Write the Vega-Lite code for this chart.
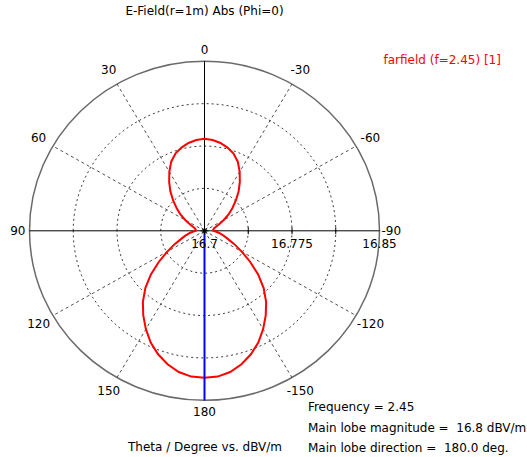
{
  "$schema": "https://vega.github.io/schema/vega-lite/v6.json",
  "width": 350,
  "height": 339,
  "autosize": {"type": "none"},
  "padding": {"left": 29.5, "top": 61.3, "right": 147.5, "bottom": 56.7},
  "background": "white",
  "config": {"view": {"stroke": null}, "font": "DejaVu Sans"},
  "title": {"text": "E-Field(r=1m) Abs (Phi=0)", "fontSize": 12, "fontWeight": "normal", "font": "DejaVu Sans", "color": "#000000", "offset": 26, "anchor": "middle"},
  "datasets": {
    "pattern": [
      {"theta": -180, "efield": 16.8301}, {"theta": -175, "efield": 16.8295}, {"theta": -170, "efield": 16.8269},
      {"theta": -165, "efield": 16.8223}, {"theta": -160, "efield": 16.8163}, {"theta": -155, "efield": 16.8091},
      {"theta": -150, "efield": 16.8005}, {"theta": -145, "efield": 16.7915}, {"theta": -140, "efield": 16.7822},
      {"theta": -135, "efield": 16.7717}, {"theta": -130, "efield": 16.7600}, {"theta": -125, "efield": 16.7477},
      {"theta": -120, "efield": 16.7368}, {"theta": -115, "efield": 16.7285}, {"theta": -110, "efield": 16.7215},
      {"theta": -105, "efield": 16.7173}, {"theta": -100, "efield": 16.7135}, {"theta": -95, "efield": 16.7102},
      {"theta": -90, "efield": 16.7075}, {"theta": -85, "efield": 16.7075}, {"theta": -80, "efield": 16.7078},
      {"theta": -75, "efield": 16.7086}, {"theta": -70, "efield": 16.7105}, {"theta": -65, "efield": 16.7138},
      {"theta": -60, "efield": 16.7188}, {"theta": -55, "efield": 16.7252}, {"theta": -50, "efield": 16.7311},
      {"theta": -45, "efield": 16.7380}, {"theta": -40, "efield": 16.7455}, {"theta": -35, "efield": 16.7528},
      {"theta": -30, "efield": 16.7603}, {"theta": -25, "efield": 16.7675}, {"theta": -20, "efield": 16.7728},
      {"theta": -15, "efield": 16.7762}, {"theta": -10, "efield": 16.7789}, {"theta": -5, "efield": 16.7807},
      {"theta": 0, "efield": 16.7815},
      {"theta": 5, "efield": 16.7807}, {"theta": 10, "efield": 16.7789}, {"theta": 15, "efield": 16.7762},
      {"theta": 20, "efield": 16.7728}, {"theta": 25, "efield": 16.7675}, {"theta": 30, "efield": 16.7603},
      {"theta": 35, "efield": 16.7528}, {"theta": 40, "efield": 16.7455}, {"theta": 45, "efield": 16.7380},
      {"theta": 50, "efield": 16.7311}, {"theta": 55, "efield": 16.7252}, {"theta": 60, "efield": 16.7188},
      {"theta": 65, "efield": 16.7138}, {"theta": 70, "efield": 16.7105}, {"theta": 75, "efield": 16.7086},
      {"theta": 80, "efield": 16.7078}, {"theta": 85, "efield": 16.7075}, {"theta": 90, "efield": 16.7075},
      {"theta": 95, "efield": 16.7102}, {"theta": 100, "efield": 16.7135}, {"theta": 105, "efield": 16.7173},
      {"theta": 110, "efield": 16.7215}, {"theta": 115, "efield": 16.7285}, {"theta": 120, "efield": 16.7368},
      {"theta": 125, "efield": 16.7477}, {"theta": 130, "efield": 16.7600}, {"theta": 135, "efield": 16.7717},
      {"theta": 140, "efield": 16.7822}, {"theta": 145, "efield": 16.7915}, {"theta": 150, "efield": 16.8005},
      {"theta": 155, "efield": 16.8091}, {"theta": 160, "efield": 16.8163}, {"theta": 165, "efield": 16.8223},
      {"theta": 170, "efield": 16.8269}, {"theta": 175, "efield": 16.8295}, {"theta": 180, "efield": 16.8301}
    ],
    "rings": [{"level": 16.7375}, {"level": 16.775}, {"level": 16.8125}, {"level": 16.85}],
    "spokes": [
      {"angle": 0, "kind": "axis"}, {"angle": 30, "kind": "grid"}, {"angle": 60, "kind": "grid"},
      {"angle": 90, "kind": "axis"}, {"angle": 120, "kind": "grid"}, {"angle": 150, "kind": "grid"},
      {"angle": 180, "kind": "axis"}, {"angle": -150, "kind": "grid"}, {"angle": -120, "kind": "grid"},
      {"angle": -90, "kind": "axis"}, {"angle": -60, "kind": "grid"}, {"angle": -30, "kind": "grid"}
    ],
    "radial": [{"level": 16.7}, {"level": 16.775}, {"level": 16.85}],
    "mainlobe": [{"direction": 180, "magnitude": 16.8}]
  },
  "layer": [
    {
      "data": {"name": "rings"},
      "transform": [{"filter": "datum.level < 16.85"}, {"calculate": "(datum.level - 16.7) / 0.15", "as": "rn"}, {"calculate": "0", "as": "cx"}],
      "mark": {"type": "point", "shape": "M-1,0A1,0.9686,0,1,1,1,0A1,0.9686,0,1,1,-1,0Z", "filled": false, "stroke": "#3c3c3c", "strokeWidth": 1, "strokeDash": [2, 3], "opacity": 1},
      "encoding": {
        "x": {"field": "cx", "type": "quantitative", "scale": {"domain": [-1, 1], "nice": false, "zero": false}, "axis": {"title": "Theta / Degree vs. dBV/m", "domain": false, "ticks": false, "labels": false, "grid": false, "titlePadding": 41, "titleFontSize": 12, "titleFontWeight": "normal", "titleColor": "#000000", "titleFont": "DejaVu Sans"}},
        "y": {"field": "cx", "type": "quantitative", "scale": {"domain": [-1, 1], "nice": false, "zero": false}, "axis": null},
        "size": {"field": "rn", "type": "quantitative", "scale": {"type": "pow", "exponent": 2, "domain": [0, 1], "range": [0, 122500]}, "legend": null}
      }
    },
    {
      "data": {"name": "rings"},
      "transform": [{"filter": "datum.level >= 16.85"}, {"calculate": "(datum.level - 16.7) / 0.15", "as": "rn"}, {"calculate": "0", "as": "cx"}],
      "mark": {"type": "point", "shape": "M-1,0A1,0.9686,0,1,1,1,0A1,0.9686,0,1,1,-1,0Z", "filled": false, "stroke": "#6a6a6a", "strokeWidth": 1.5, "opacity": 1},
      "encoding": {
        "x": {"field": "cx", "type": "quantitative"},
        "y": {"field": "cx", "type": "quantitative"},
        "size": {"field": "rn", "type": "quantitative", "legend": null}
      }
    },
    {
      "data": {"name": "spokes"},
      "transform": [
        {"filter": "datum.kind == 'grid'"},
        {"calculate": "0", "as": "cx"},
        {"calculate": "-sin(datum.angle * PI / 180)", "as": "ex"},
        {"calculate": "cos(datum.angle * PI / 180)", "as": "ey"}
      ],
      "mark": {"type": "rule", "stroke": "#505050", "strokeWidth": 1, "strokeDash": [3, 3]},
      "encoding": {
        "x": {"field": "cx", "type": "quantitative"},
        "y": {"field": "cx", "type": "quantitative"},
        "x2": {"field": "ex"},
        "y2": {"field": "ey"}
      }
    },
    {
      "data": {"name": "spokes"},
      "transform": [
        {"filter": "datum.kind == 'axis'"},
        {"calculate": "0", "as": "cx"},
        {"calculate": "-sin(datum.angle * PI / 180)", "as": "ex"},
        {"calculate": "cos(datum.angle * PI / 180)", "as": "ey"}
      ],
      "mark": {"type": "rule", "stroke": "#000000", "strokeWidth": 1},
      "encoding": {
        "x": {"field": "cx", "type": "quantitative"},
        "y": {"field": "cx", "type": "quantitative"},
        "x2": {"field": "ex"},
        "y2": {"field": "ey"}
      }
    },
    {
      "data": {"name": "rings"},
      "transform": [{"filter": "datum.level < 16.85"}, {"calculate": "(datum.level - 16.7) / 0.15", "as": "rn"}, {"calculate": "0", "as": "cx"}],
      "mark": {"type": "tick", "orient": "vertical", "size": 7, "thickness": 1, "color": "#000000", "opacity": 1},
      "encoding": {
        "x": {"field": "rn", "type": "quantitative"},
        "y": {"field": "cx", "type": "quantitative"}
      }
    },
    {
      "data": {"name": "pattern"},
      "transform": [
        {"calculate": "(datum.efield - 16.7) / 0.15", "as": "rn"},
        {"calculate": "-datum.rn * sin(datum.theta * PI / 180)", "as": "px"},
        {"calculate": "datum.rn * cos(datum.theta * PI / 180)", "as": "py"},
        {"calculate": "'farfield (f=2.45) [1]'", "as": "series"}
      ],
      "mark": {"type": "line", "strokeWidth": 2},
      "encoding": {
        "x": {"field": "px", "type": "quantitative"},
        "y": {"field": "py", "type": "quantitative"},
        "order": {"field": "theta", "type": "quantitative"},
        "color": {"field": "series", "type": "nominal", "scale": {"range": ["#ff0000"]},
          "legend": {"orient": "none", "legendX": 342, "legendY": -7, "title": null, "symbolSize": 0, "symbolStrokeWidth": 0, "symbolOpacity": 0, "labelColor": "#ff0000", "labelFontSize": 12, "labelFont": "DejaVu Sans", "labelOffset": 0, "padding": 0}}
      }
    },
    {
      "data": {"name": "mainlobe"},
      "transform": [
        {"calculate": "0", "as": "cx"},
        {"calculate": "-sin(datum.direction * PI / 180)", "as": "ex"},
        {"calculate": "cos(datum.direction * PI / 180)", "as": "ey"}
      ],
      "mark": {"type": "rule", "stroke": "#0000ff", "strokeWidth": 2},
      "encoding": {
        "x": {"field": "cx", "type": "quantitative"},
        "y": {"field": "cx", "type": "quantitative"},
        "x2": {"field": "ex"},
        "y2": {"field": "ey"}
      }
    },
    {
      "data": {"name": "mainlobe"},
      "transform": [{"calculate": "0", "as": "cx"}],
      "mark": {"type": "point", "shape": "M-1,0L1,0M0,-1L0,1M-0.7,-0.7L0.7,0.7M-0.7,0.7L0.7,-0.7", "filled": false, "stroke": "#000000", "strokeWidth": 1, "size": 64, "opacity": 1},
      "encoding": {
        "x": {"field": "cx", "type": "quantitative"},
        "y": {"field": "cx", "type": "quantitative"}
      }
    },
    {
      "data": {"name": "spokes"},
      "transform": [
        {"calculate": "1.067 + 0.032 * abs(sin(2 * datum.angle * PI / 180))", "as": "lr"},
        {"calculate": "-datum.lr * sin(datum.angle * PI / 180)", "as": "lx"},
        {"calculate": "datum.lr * cos(datum.angle * PI / 180)", "as": "ly"}
      ],
      "mark": {"type": "text", "fontSize": 12, "font": "DejaVu Sans", "color": "#000000", "align": "center", "baseline": "middle"},
      "encoding": {
        "x": {"field": "lx", "type": "quantitative"},
        "y": {"field": "ly", "type": "quantitative"},
        "text": {"field": "angle", "type": "nominal"}
      }
    },
    {
      "data": {"name": "radial"},
      "transform": [{"calculate": "(datum.level - 16.7) / 0.15", "as": "rn"}, {"calculate": "0", "as": "cx"}],
      "mark": {"type": "text", "fontSize": 12, "font": "DejaVu Sans", "color": "#000000", "align": "center", "baseline": "middle", "dy": 13},
      "encoding": {
        "x": {"field": "rn", "type": "quantitative"},
        "y": {"field": "cx", "type": "quantitative"},
        "text": {"field": "level", "type": "nominal"}
      }
    },
    {
      "data": {"name": "mainlobe"},
      "transform": [{"calculate": "0.591", "as": "tx"}, {"calculate": "-1.04", "as": "ty"}],
      "mark": {"type": "text", "fontSize": 12, "font": "DejaVu Sans", "color": "#000000", "align": "left", "baseline": "middle", "lineHeight": 20.5,
        "text": ["Frequency = 2.45", "Main lobe magnitude =\u00a0 16.8 dBV/m", "Main lobe direction =\u00a0 180.0 deg."]},
      "encoding": {
        "x": {"field": "tx", "type": "quantitative"},
        "y": {"field": "ty", "type": "quantitative"}
      }
    }
  ]
}
